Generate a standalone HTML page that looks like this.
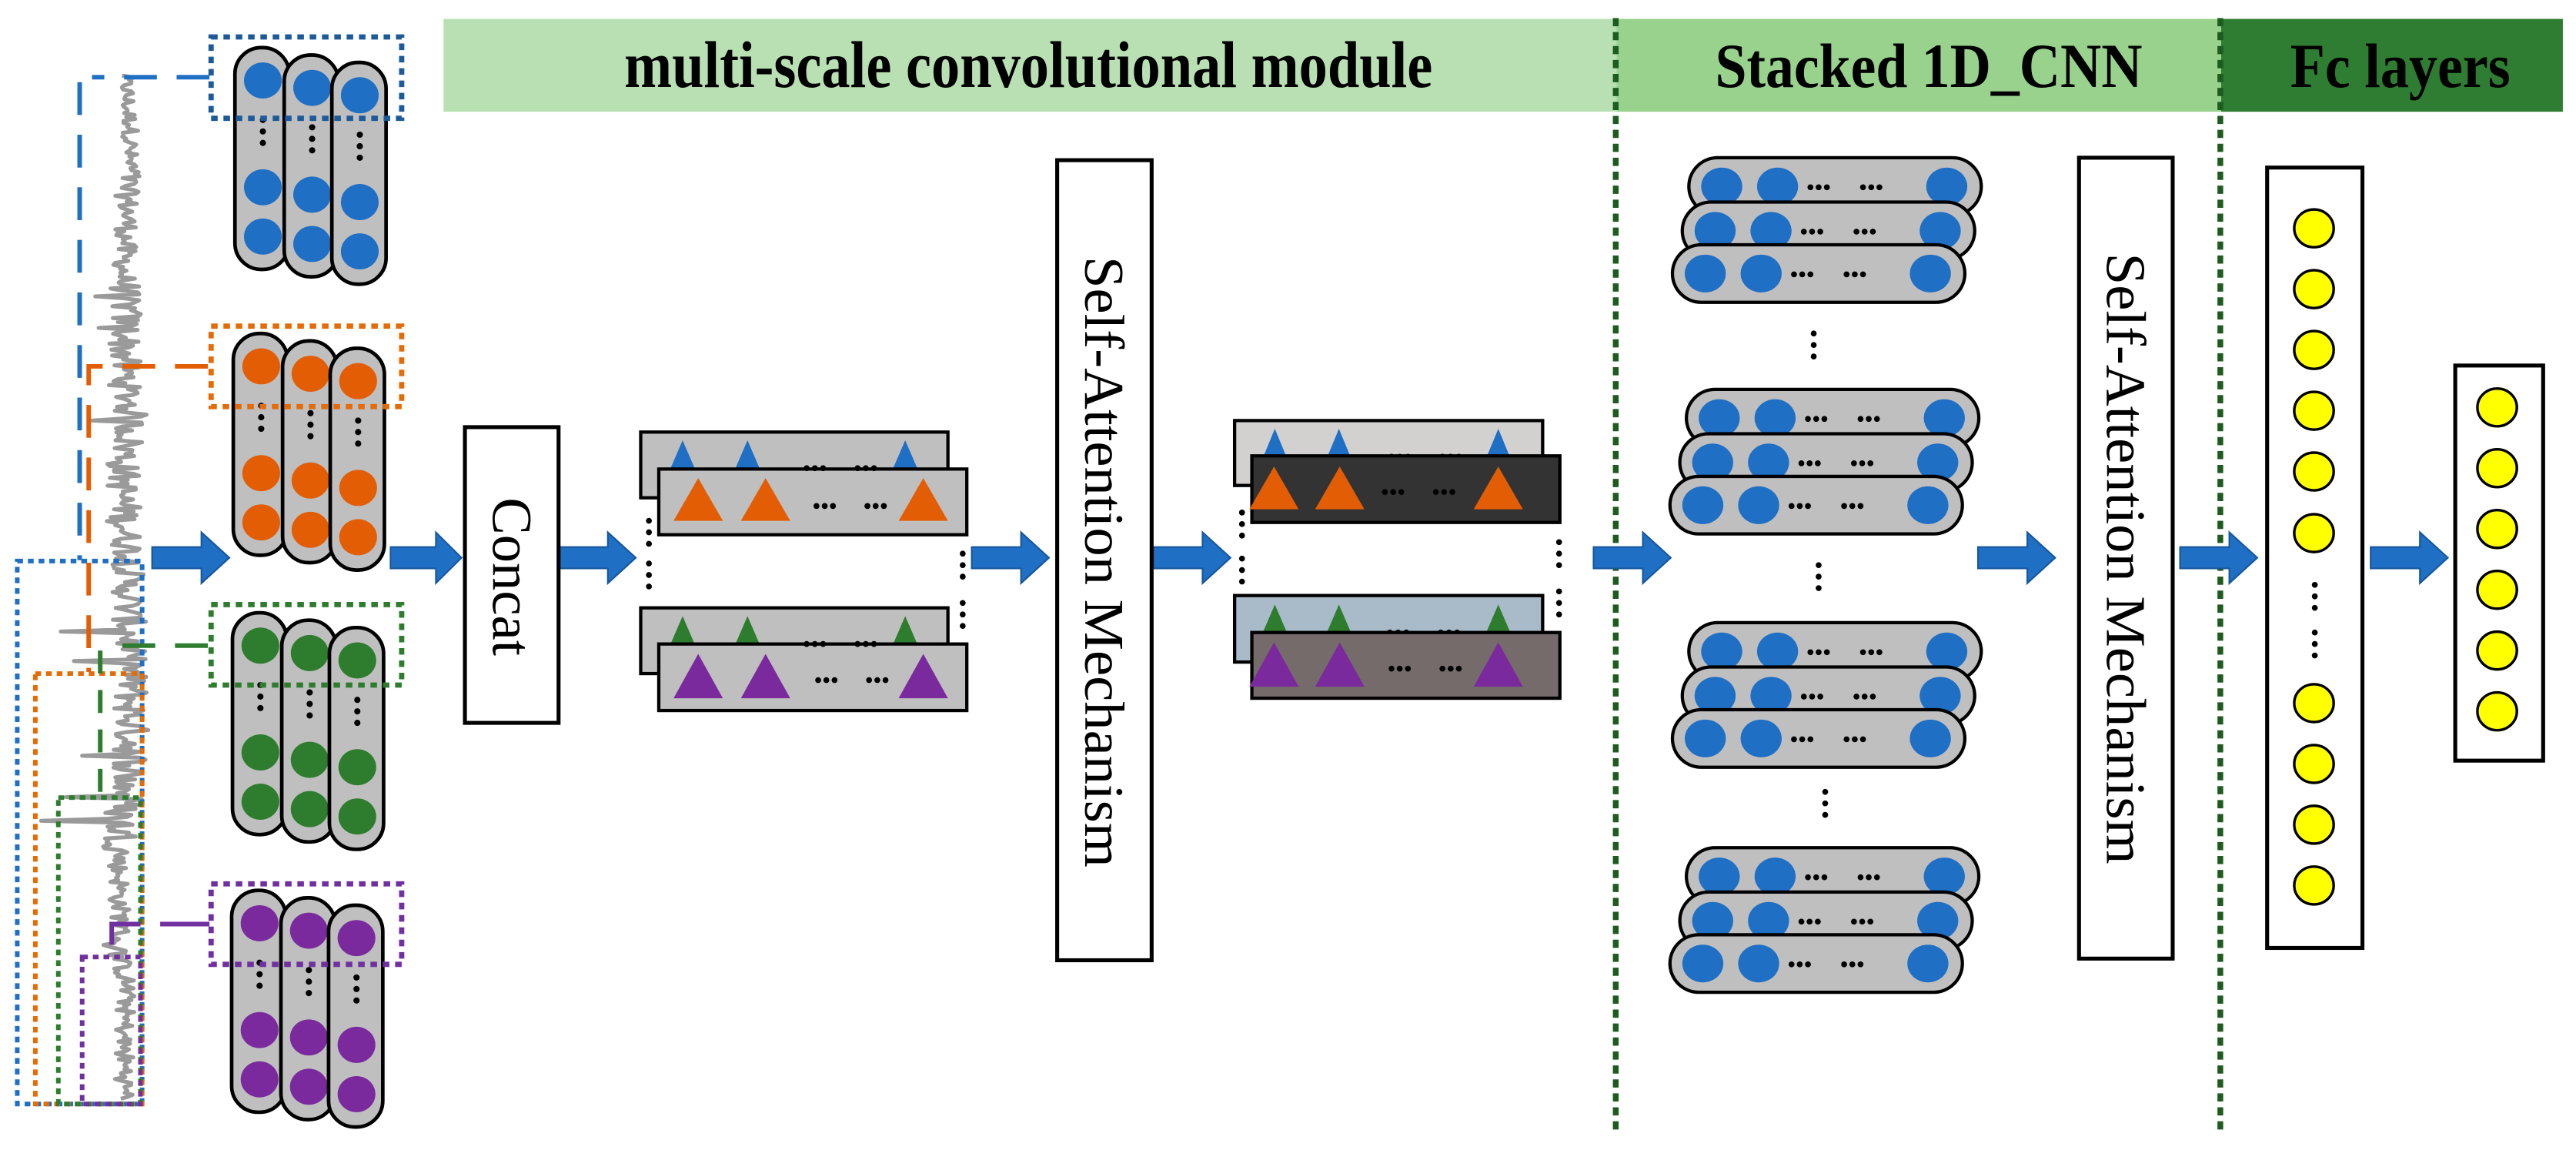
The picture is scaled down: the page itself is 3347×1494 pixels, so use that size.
<!DOCTYPE html>
<html><head><meta charset="utf-8"><style>
html,body{margin:0;padding:0;background:#fff;}
svg{display:block;}
text{font-family:"Liberation Serif",serif;}
</style></head><body>
<svg width="3347" height="1494" viewBox="0 0 1568 700" preserveAspectRatio="none" xmlns="http://www.w3.org/2000/svg">
<defs>
  <g id="arrow"><polygon points="0,-6.5 30,-6.5 30,-15.5 47,0 30,15.5 30,6.5 0,6.5" fill="#1f6fc5" stroke="#17579c" stroke-width="1"/></g>
  <g id="cyl">
    <rect x="0" y="0" width="33" height="135" rx="16" fill="#bfbfbf" stroke="#000" stroke-width="2.2"/>
    <ellipse cx="17" cy="20" rx="11.5" ry="11"/>
    <ellipse cx="17" cy="85" rx="11.5" ry="11"/>
    <ellipse cx="17" cy="115" rx="11.5" ry="11"/>
    <circle cx="17" cy="44" r="1.9" fill="#000"/><circle cx="17" cy="51" r="1.9" fill="#000"/><circle cx="17" cy="58" r="1.9" fill="#000"/>
  </g>
  <g id="cols">
    <use href="#cyl" x="0" y="0"/><use href="#cyl" x="30" y="4.5"/><use href="#cyl" x="59" y="9"/>
  </g>
  <g id="pill">
    <rect x="0" y="0" width="178" height="35" rx="17.5" fill="#bfbfbf" stroke="#000" stroke-width="2"/>
    <ellipse cx="20" cy="17.5" rx="12.5" ry="11.5" fill="#1f6fc5"/>
    <ellipse cx="54" cy="17.5" rx="12.5" ry="11.5" fill="#1f6fc5"/>
    <ellipse cx="157" cy="17.5" rx="12.5" ry="11.5" fill="#1f6fc5"/>
    <g fill="#000"><circle cx="74" cy="18" r="1.8"/><circle cx="79" cy="18" r="1.8"/><circle cx="84" cy="18" r="1.8"/><circle cx="106" cy="18" r="1.8"/><circle cx="111" cy="18" r="1.8"/><circle cx="116" cy="18" r="1.8"/></g>
  </g>
  <g id="pstack"><use href="#pill" x="10" y="0"/><use href="#pill" x="6" y="27"/><use href="#pill" x="0" y="53"/></g>
  <g id="vd" fill="#000"><circle cx="0" cy="0" r="1.8"/><circle cx="0" cy="7" r="1.8"/><circle cx="0" cy="14" r="1.8"/></g>
  <g id="hd" fill="#000"><circle cx="0" cy="0" r="1.8"/><circle cx="5" cy="0" r="1.8"/><circle cx="10" cy="0" r="1.8"/><circle cx="31" cy="0" r="1.8"/><circle cx="36" cy="0" r="1.8"/><circle cx="41" cy="0" r="1.8"/></g>
  <ellipse id="yc" cx="0" cy="0" rx="12" ry="11.5" fill="#ffff00" stroke="#000" stroke-width="1.6"/>
</defs>

<!-- headers -->
<rect x="270" y="11.5" width="714" height="56.5" fill="#b9e0b3"/>
<rect x="984" y="11.5" width="368" height="56.5" fill="#98d28c"/>
<rect x="1352" y="11.5" width="208" height="56.5" fill="#2e7d32"/>
<text x="380" y="53" font-size="40" font-weight="bold" textLength="492" lengthAdjust="spacingAndGlyphs">multi-scale convolutional module</text>
<text x="1044" y="53" font-size="38" font-weight="bold" textLength="260" lengthAdjust="spacingAndGlyphs">Stacked 1D_CNN</text>
<text x="1394" y="53" font-size="38" font-weight="bold" textLength="134" lengthAdjust="spacingAndGlyphs">Fc layers</text>
<line x1="983.5" y1="11" x2="983.5" y2="690" stroke="#1e5b1e" stroke-width="3.5" stroke-dasharray="5,3.5"/>
<line x1="1351.5" y1="11" x2="1351.5" y2="690" stroke="#1e5b1e" stroke-width="3.5" stroke-dasharray="5,3.5"/>

<!-- signal -->
<polyline id="sig" fill="none" stroke="#9a9a9a" stroke-width="2.4" stroke-linejoin="round" points=""/>

<!-- left dotted rects -->
<g fill="none" stroke-width="2.8" stroke-dasharray="3.5,3">
<rect x="10.5" y="341.5" width="76" height="330.5" stroke="#1f6fc5"/>
<rect x="21.5" y="410" width="65" height="262" stroke="#e36c09"/>
<rect x="35.5" y="485.5" width="50" height="186.5" stroke="#2e7d2e"/>
<rect x="50" y="582.5" width="35.5" height="89.5" stroke="#7030a0"/>
</g>
<!-- dashed connectors -->
<g fill="none" stroke-width="2.8" stroke-dasharray="20,12">
<polyline points="127.5,47 56,47" stroke="#1f6fc5"/>
<polyline points="48.5,50 48.5,341" stroke="#1f6fc5"/>
<polyline points="126.5,223 54,223 54,409" stroke="#e35d05"/>
<polyline points="126.5,393 69,393" stroke="#2e7d2e"/>
<polyline points="61,396 61,484" stroke="#2e7d2e" stroke-dasharray="14,10"/>
<polyline points="127.5,562.5 68,562.5 68,582" stroke="#7030a0" stroke-dasharray="30,12"/>
</g>

<!-- cylinders -->
<g fill="#1f6fc5"><use href="#cols" x="143" y="29"/></g>
<g fill="#e35d05"><use href="#cols" x="142" y="203"/></g>
<g fill="#2e7d2e"><use href="#cols" x="141.5" y="373"/></g>
<g fill="#7b2a9e"><use href="#cols" x="141" y="542"/></g>
<g fill="none" stroke-width="3.2" stroke-dasharray="4,3.5">
<rect x="128.5" y="22.5" width="116" height="49.5" stroke="#1c5a9a"/>
<rect x="128.5" y="198.5" width="116" height="49" stroke="#e36c09"/>
<rect x="128.5" y="368" width="116" height="49" stroke="#2e7d2e"/>
<rect x="128.5" y="538" width="116" height="49" stroke="#7030a0"/>
</g>

<!-- arrows -->
<use href="#arrow" x="92.6" y="339.5"/>
<use href="#arrow" x="237.7" y="339.5" transform="translate(237.7,339.5) scale(0.92,1) translate(-237.7,-339.5)"/>
<use href="#arrow" x="340" y="339.5"/>
<use href="#arrow" x="591.5" y="339.5"/>
<use href="#arrow" x="702" y="339.5"/>
<use href="#arrow" x="970" y="339.5"/>
<use href="#arrow" x="1204" y="339.5"/>
<use href="#arrow" x="1327" y="339.5"/>
<use href="#arrow" x="1443" y="339.5"/>

<!-- concat -->
<rect x="283" y="260" width="57" height="180" fill="#fff" stroke="#000" stroke-width="2.4"/>
<text transform="translate(311.5,351) rotate(90)" text-anchor="middle" dominant-baseline="central" font-size="34">Concat</text>

<!-- feature maps A -->
<rect x="390" y="263" width="187" height="40" fill="#bfbfbf" stroke="#000" stroke-width="2"/>
<g fill="#1f6fc5"><polygon points="415.5,268 406,290 425,290"/><polygon points="455,268 445.5,290 464.5,290"/><polygon points="551,268 541.5,290 560.5,290"/></g>
<rect x="401" y="285.5" width="187.5" height="40" fill="#bfbfbf" stroke="#000" stroke-width="2"/>
<use href="#hd" x="491" y="285"/>
<g fill="#e35d05"><polygon points="425,291 410,317 440,317"/><polygon points="466,291 451,317 481,317"/><polygon points="562,291 547,317 577,317"/></g>
<use href="#hd" x="497" y="308"/>
<!-- B -->
<rect x="390" y="370" width="187" height="40" fill="#bfbfbf" stroke="#000" stroke-width="2"/>
<g fill="#2e7d2e"><polygon points="415.5,375 406,397 425,397"/><polygon points="455,375 445.5,397 464.5,397"/><polygon points="551,375 541.5,397 560.5,397"/></g>
<rect x="401" y="392" width="187.5" height="40.5" fill="#bfbfbf" stroke="#000" stroke-width="2"/>
<use href="#hd" x="491" y="392"/>
<g fill="#7b2a9e"><polygon points="425,398 410,425 440,425"/><polygon points="466,398 451,425 481,425"/><polygon points="562,398 547,425 577,425"/></g>
<use href="#hd" x="498" y="414"/>
<use href="#vd" x="395" y="317"/><use href="#vd" x="395" y="343"/>
<use href="#vd" x="586" y="337"/><use href="#vd" x="586" y="367"/>

<!-- SA 1 -->
<rect x="643.5" y="97.5" width="57.5" height="487" fill="#fff" stroke="#000" stroke-width="2.4"/>
<text transform="translate(672,342) rotate(90)" text-anchor="middle" dominant-baseline="central" font-size="34" textLength="372" lengthAdjust="spacingAndGlyphs">Self-Attention Mechanism</text>

<!-- feature maps C -->
<rect x="751.5" y="256" width="187.5" height="39.5" fill="#d3d0d0" stroke="#000" stroke-width="2"/>
<g fill="#1f6fc5"><polygon points="776,261 766.5,284 785.5,284"/><polygon points="815,261 805.5,284 824.5,284"/><polygon points="912,261 902.5,284 921.5,284"/></g>
<use href="#hd" x="847" y="278"/>
<rect x="762" y="277.5" width="187.5" height="40.5" fill="#333" stroke="#000" stroke-width="2"/>
<g fill="#e35d05"><polygon points="775.5,284 760.5,310 790.5,310"/><polygon points="815.5,284 800.5,310 830.5,310"/><polygon points="912,284 897,310 927,310"/></g>
<use href="#hd" x="843" y="299.5"/>
<!-- D -->
<rect x="751.5" y="362.5" width="187.5" height="40.5" fill="#a9bac9" stroke="#000" stroke-width="2"/>
<g fill="#2e7d2e"><polygon points="776,368 766.5,390 785.5,390"/><polygon points="815,368 805.5,390 824.5,390"/><polygon points="912,368 902.5,390 921.5,390"/></g>
<use href="#hd" x="846" y="385"/>
<rect x="762" y="385" width="187.5" height="40" fill="#756b6b" stroke="#000" stroke-width="2"/>
<g fill="#7b2a9e"><polygon points="775.5,391 760.5,418 790.5,418"/><polygon points="815.5,391 800.5,418 830.5,418"/><polygon points="912,391 897,418 927,418"/></g>
<use href="#hd" x="847" y="407"/>
<use href="#vd" x="756" y="312"/><use href="#vd" x="756" y="340"/>
<use href="#vd" x="949" y="330"/><use href="#vd" x="949" y="360"/>

<!-- stacked CNN -->
<use href="#pstack" x="1018" y="96"/>
<use href="#pstack" x="1016.5" y="237"/>
<use href="#pstack" x="1018" y="379"/>
<use href="#pstack" x="1016.5" y="516"/>
<use href="#vd" x="1104" y="203"/><use href="#vd" x="1107" y="344"/><use href="#vd" x="1111" y="482"/>

<!-- SA 2 -->
<rect x="1265.5" y="96" width="57" height="487.5" fill="#fff" stroke="#000" stroke-width="2.4"/>
<text transform="translate(1294,340) rotate(90)" text-anchor="middle" dominant-baseline="central" font-size="34" textLength="372" lengthAdjust="spacingAndGlyphs">Self-Attention Mechanism</text>

<!-- FC -->
<rect x="1380" y="102" width="58" height="475" fill="#fff" stroke="#000" stroke-width="2.4"/>
<use href="#yc" x="1408.5" y="139"/><use href="#yc" x="1408.5" y="176"/><use href="#yc" x="1408.5" y="213"/><use href="#yc" x="1408.5" y="250"/><use href="#yc" x="1408.5" y="287"/><use href="#yc" x="1408.5" y="324.5"/>
<use href="#vd" x="1409" y="356"/><use href="#vd" x="1409" y="385"/>
<use href="#yc" x="1408.5" y="428"/><use href="#yc" x="1408.5" y="465"/><use href="#yc" x="1408.5" y="502"/><use href="#yc" x="1408.5" y="539"/>
<rect x="1494.5" y="222.5" width="53.5" height="240.5" fill="#fff" stroke="#000" stroke-width="2.4"/>
<use href="#yc" x="1520" y="248"/><use href="#yc" x="1520" y="285"/><use href="#yc" x="1520" y="322"/><use href="#yc" x="1520" y="359"/><use href="#yc" x="1520" y="396"/><use href="#yc" x="1520" y="433"/>
</svg>
<script>
(function(){
  var s=12345;function r(){s=(s*1103515245+12345)%2147483648;return s/2147483648;}
  var pts=[];
  var spikes={384:37,469:14,500:25,256:56,295:54,343:57,485:40,460:50,575:63,402:45,200:60,180:58};
  var base=76;
  for(var y=46;y<=670;y+=1.2){
    var amp=y<100?5:(y<170?7:(y<420?10:(y<520?11:6)));
    base+= (r()-0.5)*1.5; base=Math.max(72,Math.min(80,base));
    var x=base+(r()-0.5)*2*amp;
    var yk=Math.round(y);
    for(var k in spikes){ if(Math.abs(yk-k)<0.7){x=spikes[k];} }
    if(y>600) x=Math.min(Math.max(x,70),83);
    pts.push(x.toFixed(1)+","+y.toFixed(1));
  }
  document.getElementById('sig').setAttribute('points',pts.join(' '));
})();
</script>
</body></html>
